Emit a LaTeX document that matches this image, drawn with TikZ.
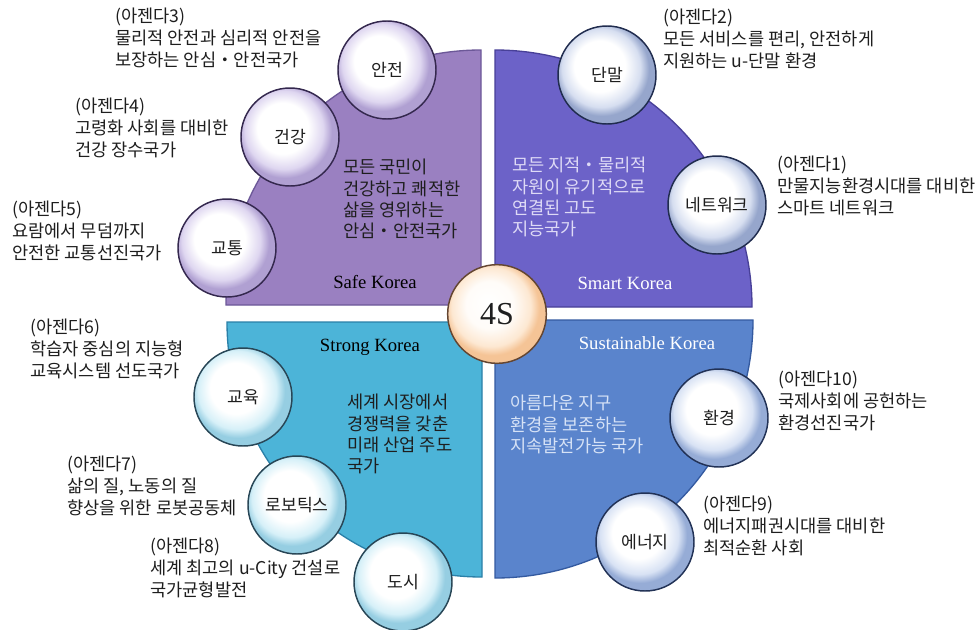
\documentclass[tikz,border=0pt]{standalone}
\usepackage{fontspec}
\setmainfont{Noto Sans CJK KR}
\newfontfamily\latserif{Liberation Serif}
\usetikzlibrary{backgrounds}
\definecolor{safeF}{RGB}{154,128,193}
\definecolor{safeD}{RGB}{108,88,152}
\definecolor{smartF}{RGB}{108,98,200}
\definecolor{smartD}{RGB}{72,64,152}
\definecolor{strongF}{RGB}{76,180,216}
\definecolor{strongD}{RGB}{42,128,168}
\definecolor{sustF}{RGB}{90,132,204}
\definecolor{sustD}{RGB}{52,90,160}
\definecolor{lineG}{RGB}{122,122,122}
\definecolor{txt}{RGB}{30,30,30}
\definecolor{smartT}{RGB}{222,218,246}
\definecolor{sustT}{RGB}{214,226,246}
% bubble tints
\definecolor{tintP}{RGB}{222,214,240}
\definecolor{rimP}{RGB}{176,160,210}
\definecolor{outP}{RGB}{52,40,78}
\definecolor{tintB}{RGB}{214,222,240}
\definecolor{rimB}{RGB}{150,166,204}
\definecolor{outB}{RGB}{32,44,78}
\definecolor{tintC}{RGB}{214,240,248}
\definecolor{rimC}{RGB}{150,206,226}
\definecolor{outC}{RGB}{40,70,86}
\definecolor{tintS}{RGB}{216,226,244}
\definecolor{rimS}{RGB}{150,172,214}
\definecolor{outS}{RGB}{34,50,86}
\definecolor{tintO}{RGB}{253,232,210}
\definecolor{rimO}{RGB}{245,196,150}
\definecolor{outO}{RGB}{100,70,50}
\pgfdeclareradialshading{bubP}{\pgfqpoint{-5bp}{6bp}}{color(0bp)=(white); color(13bp)=(white); color(20bp)=(tintP); color(24bp)=(rimP); color(25bp)=(rimP); color(50bp)=(rimP)}
\pgfdeclareradialshading{bubB}{\pgfqpoint{-5bp}{6bp}}{color(0bp)=(white); color(13bp)=(white); color(20bp)=(tintB); color(24bp)=(rimB); color(25bp)=(rimB); color(50bp)=(rimB)}
\pgfdeclareradialshading{bubC}{\pgfqpoint{-5bp}{6bp}}{color(0bp)=(white); color(13bp)=(white); color(20bp)=(tintC); color(24bp)=(rimC); color(25bp)=(rimC); color(50bp)=(rimC)}
\pgfdeclareradialshading{bubS}{\pgfqpoint{-5bp}{6bp}}{color(0bp)=(white); color(13bp)=(white); color(20bp)=(tintS); color(24bp)=(rimS); color(25bp)=(rimS); color(50bp)=(rimS)}
\pgfdeclareradialshading{bubO}{\pgfqpoint{-5bp}{6bp}}{color(0bp)=(white); color(12bp)=(white!85!tintO); color(20bp)=(tintO); color(24bp)=(rimO); color(25bp)=(rimO); color(50bp)=(rimO)}
\tikzset{
  bubble/.style={circle, minimum size=73.5pt, inner sep=0pt, line width=1.1pt,
    font=\fontsize{12.9}{14}\selectfont, text=txt},
  bubP/.style={bubble, draw=outP, shading=bubP},
  bubB/.style={bubble, draw=outB, shading=bubB},
  bubC/.style={bubble, draw=outC, shading=bubC},
  bubS/.style={bubble, draw=outS, shading=bubS},
  agenda/.style={anchor=north west, inner sep=0pt, align=left,
    font=\fontsize{13.2}{16.3}\selectfont, text=txt},
  inner/.style={anchor=north west, inner sep=0pt, align=left,
    font=\fontsize{13.2}{16}\selectfont},
  korea/.style={inner sep=0pt, font=\latserif\fontsize{14}{16}\selectfont},
  leader/.style={draw=lineG, line width=2.2pt},
  quad/.style={line width=1pt}
}
\begin{document}
\begin{tikzpicture}[x=0.75pt, y=-0.75pt]
\useasboundingbox (0,0) rectangle (979,629);
\fill[white] (0,0) rectangle (979,629);
% quadrants
\filldraw[quad, fill=safeF, draw=safeD] (481,305) -- (226,305) arc[start angle=180, end angle=270, radius=255] -- cycle;
\filldraw[quad, fill=smartF, draw=smartD] (495,307) -- (752,307) arc[start angle=0, end angle=-90, radius=257] -- cycle;
\filldraw[quad, fill=strongF, draw=strongD] (482,322) -- (227,322) arc[start angle=180, end angle=90, radius=255] -- cycle;
\filldraw[quad, fill=sustF, draw=sustD] (495,320) -- (753,320) arc[start angle=0, end angle=90, radius=258] -- cycle;
% center
\node[bubble, minimum size=74pt, draw=outO, shading=bubO, font=\latserif\fontsize{24}{26}\selectfont] (c) at (497,314) {4S};
% bubbles
\node[bubP] (b3) at (387,70) {안전};
\node[bubP] (b4) at (290,137) {건강};
\node[bubP] (b5) at (227,248) {교통};
\node[bubB] (b2) at (607,75) {단말};
\node[bubB] (b1) at (717,205) {네트워크};
\node[bubC] (b6) at (243,397) {교육};
\node[bubC] (b7) at (297,505) {로보틱스};
\node[bubC] (b8) at (403,582) {도시};
\node[bubS] (b10) at (719,418) {환경};
\node[bubS] (b9) at (645,542) {에너지};
% leader lines
\coordinate (l3) at (115,80);
\coordinate (l4) at (73,170);
\coordinate (l5) at (10,271);
\coordinate (l2) at (824,84);
\coordinate (l1) at (937,231);
\coordinate (l6) at (28,393);
\coordinate (l7) at (65,531);
\coordinate (l8) at (148,612);
\coordinate (l10) at (933,447);
\coordinate (l9) at (890,571);
\begin{scope}[on background layer]
\foreach \i in {1,...,10} {\draw[leader] (l\i) -- (l\i -| b\i);}
\end{scope}
% agenda texts
\node[agenda] (a3) at (115,8) {(아젠다3)\\물리적 안전과 심리적 안전을\\보장하는 안심・안전국가};
\node[agenda] (a4) at (75,98) {(아젠다4)\\고령화 사회를 대비한\\건강 장수국가};
\node[agenda] (a5) at (12,201) {(아젠다5)\\요람에서 무덤까지\\안전한 교통선진국가};
\node[agenda] (a2) at (663,9) {(아젠다2)\\모든 서비스를 편리, 안전하게\\지원하는 u-단말 환경};
\node[agenda] (a1) at (777,156) {(아젠다1)\\만물지능환경시대를 대비한\\스마트 네트워크};
\node[agenda] (a6) at (30,319) {(아젠다6)\\학습자 중심의 지능형\\교육시스템 선도국가};
\node[agenda] (a7) at (67,456) {(아젠다7)\\삶의 질, 노동의 질\\향상을 위한 로봇공동체};
\node[agenda] (a8) at (150,538) {(아젠다8)\\세계 최고의 u-City 건설로\\국가균형발전};
\node[agenda] (a10) at (778,371) {(아젠다10)\\국제사회에 공헌하는\\환경선진국가};
\node[agenda] (a9) at (703,496) {(아젠다9)\\에너지패권시대를 대비한\\최적순환 사회};
% quadrant texts
\node[inner, text=txt] (q1) at (343,159) {모든 국민이\\건강하고 쾌적한\\삶을 영위하는\\안심・안전국가};
\node[inner, text=smartT] (q2) at (512,157) {모든 지적・물리적\\자원이 유기적으로\\연결된 고도\\지능국가};
\node[inner, text=txt] (q3) at (347,394) {세계 시장에서\\경쟁력을 갖춘\\미래 산업 주도\\국가};
\node[inner, text=sustT] (q4) at (510,395) {아름다운 지구\\환경을 보존하는\\지속발전가능 국가};
\node[korea, text=black] (k1) at (375,282) {Safe Korea};
\node[korea, text=white] (k2) at (625,283) {Smart Korea};
\node[korea, text=black] (k3) at (370,347) {Strong Korea};
\node[korea, text=white] (k4) at (647,343) {Sustainable Korea};
\end{tikzpicture}
\end{document}
